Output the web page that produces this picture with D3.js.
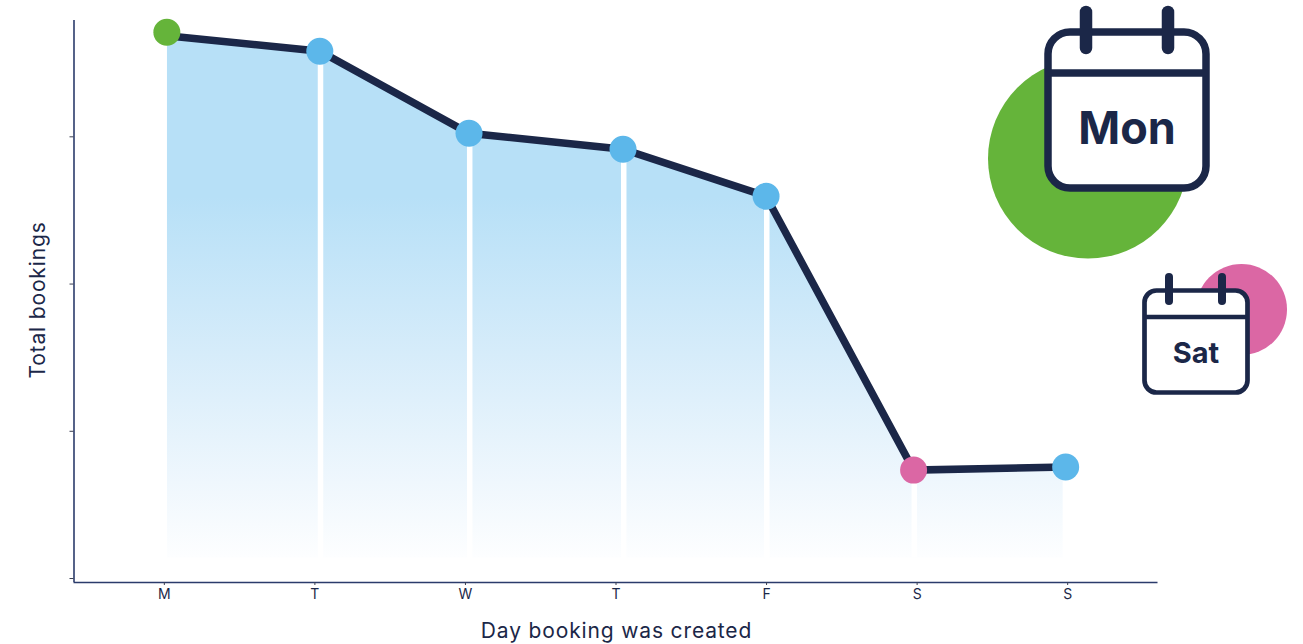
<!DOCTYPE html>
<html>
<head>
<meta charset="utf-8">
<style>
html,body{margin:0;padding:0;background:#fff;}
svg{display:block;}
text{font-family:"Inter","Noto Sans",sans-serif;fill:#1b2748;}
</style>
<script src="https://cdn.jsdelivr.net/npm/d3@7/dist/d3.min.js"></script>
</head>
<body>
<svg id="chart" width="1303" height="644"></svg>
<script>
// Bookings by the weekday they were created on
const days = ["M", "T", "W", "T", "F", "S", "S"];
const dayPlacement = [0.02, 1.036, 2.027, 3.05, 4.0, 4.98, 5.99];
const bookings = [3707, 3578, 3021, 2912, 2593, 733, 754];
const lineBookings = [3683, 3578, 3021, 2912, 2593, 733, 754];
const bookingTicks = [0, 1000, 2000, 3000];
const pointColors = ["#65b43a", "#5cb7ea", "#5cb7ea", "#5cb7ea", "#5cb7ea", "#db67a4", "#5cb7ea"];
const fillBaseline = 140;

const navy = "#1b2748";
const labelColor = "#1f315f";
const svg = d3.select("#chart");

const xBand = d3.scalePoint().domain(d3.range(days.length)).range([73.5, 1157.5]).padding(0.6);
const xPos = d3.scaleLinear()
  .domain([0, days.length - 1])
  .range([xBand(0), xBand(days.length - 1)]);
const y = d3.scaleLinear().domain([-27, 3790]).range([582, 20]);

const records = bookings.map((v, i) => ({ v, lineV: lineBookings[i], x: xPos(dayPlacement[i]), color: pointColors[i] }));

// Shaded area under the line, fading out towards the baseline
const defs = svg.append("defs");
const grad = defs.append("linearGradient")
  .attr("id", "fade").attr("gradientUnits", "userSpaceOnUse")
  .attr("x1", 0).attr("x2", 0).attr("y1", 20).attr("y2", y(fillBaseline));
[[0, "#b7e0f7"], [0.33, "#b7e0f7"], [0.62, "#d6ecfa"], [0.86, "#eff7fd"], [1, "#fdfeff"]]
  .forEach(([o, c]) => grad.append("stop").attr("offset", o).attr("stop-color", c));

defs.append("clipPath").attr("id", "areaClip").append("rect")
  .attr("x", records[0].x).attr("y", 0)
  .attr("width", records[6].x - records[0].x - 3).attr("height", 644);

svg.append("path")
  .datum(records)
  .attr("clip-path", "url(#areaClip)")
  .attr("fill", "url(#fade)")
  .attr("d", d3.area().x(d => d.x).y0(y(fillBaseline)).y1(d => y(d.lineV)));

// White drop lines under each interior point
svg.append("g").selectAll("line")
  .data(records.slice(1, 6))
  .join("line")
  .attr("x1", d => d.x + 0.7).attr("x2", d => d.x + 0.7)
  .attr("y1", d => y(d.v)).attr("y2", y(fillBaseline))
  .attr("stroke", "#fff").attr("stroke-width", 5.5);

// Axes
const xAxis = svg.append("g")
  .attr("transform", `translate(0,${y.range()[0]})`)
  .call(d3.axisBottom(xBand).tickSize(3).tickPadding(4).tickFormat(i => days[i]));
const yAxis = svg.append("g")
  .attr("transform", `translate(${xBand.range()[0]},0)`)
  .call(d3.axisLeft(y).tickValues(bookingTicks).tickSize(4).tickFormat(""));
xAxis.select(".domain").attr("d", `M${xBand.range()[0]},0.5H${xBand.range()[1]}`);
yAxis.select(".domain").attr("d", `M0.5,${y.range()[1]}V${y.range()[0]}`);
[xAxis, yAxis].forEach(a => {
  a.select(".domain").attr("stroke", "#2b3b6b").attr("stroke-width", 1.6);
  a.selectAll(".tick line").attr("stroke", "#3a3f52").attr("stroke-width", 1);
  a.selectAll("text").attr("font-size", 14).attr("font-family", '"Inter","Noto Sans",sans-serif').attr("fill", labelColor);
});

// Main line and point markers
svg.append("path")
  .datum(records)
  .attr("fill", "none").attr("stroke", navy).attr("stroke-width", 7.5)
  .attr("d", d3.line().x(d => d.x).y(d => y(d.lineV)));
svg.append("g").selectAll("circle")
  .data(records)
  .join("circle")
  .attr("cx", d => d.x).attr("cy", d => y(d.v)).attr("r", 13.5)
  .attr("fill", d => d.color);

// Axis titles
svg.append("text").attr("x", 616.5).attr("y", 638).attr("text-anchor", "middle")
  .attr("font-size", 21).attr("letter-spacing", 0.85).attr("fill", labelColor).text("Day booking was created");
svg.append("text").attr("transform", "translate(45,300) rotate(-90)").attr("text-anchor", "middle")
  .attr("font-size", 21).attr("letter-spacing", 0.85).attr("fill", labelColor).text("Total bookings");

// Calendar badges calling out the busiest and quietest days
const badges = [
  { label: "Mon", color: pointColors[0], cx: 1088, cy: 158.5, r: 100, left: 1048, top: 32, w: 158, h: 156,
    sw: 7.5, rx: 22, header: 73, pegs: [1086, 1168], pegTop: 12, pegBottom: 48, pegW: 12.5, fs: 45, base: 144, tx: 1127 },
  { label: "Sat", color: pointColors[5], cx: 1241.5, cy: 309.5, r: 45.5, left: 1144.5, top: 290.5, w: 103, h: 102,
    sw: 4.7, rx: 12, header: 317, pegs: [1169, 1222], pegTop: 277, pegBottom: 301, pegW: 8, fs: 29, base: 363, tx: 1196 }
];
const badge = svg.append("g").selectAll("g").data(badges).join("g");
badge.append("circle").attr("cx", d => d.cx).attr("cy", d => d.cy).attr("r", d => d.r).attr("fill", d => d.color);
badge.append("rect").attr("x", d => d.left).attr("y", d => d.top).attr("width", d => d.w).attr("height", d => d.h)
  .attr("rx", d => d.rx).attr("fill", "#fff").attr("stroke", navy).attr("stroke-width", d => d.sw);
badge.append("line").attr("x1", d => d.left).attr("x2", d => d.left + d.w)
  .attr("y1", d => d.header).attr("y2", d => d.header)
  .attr("stroke", navy).attr("stroke-width", d => d.sw);
badge.each(function (d) {
  d3.select(this).selectAll("line.peg").data(d.pegs).join("line").attr("class", "peg")
    .attr("x1", p => p).attr("x2", p => p).attr("y1", d.pegTop).attr("y2", d.pegBottom)
    .attr("stroke", navy).attr("stroke-width", d.pegW).attr("stroke-linecap", "round");
});
badge.append("text").attr("x", d => d.tx).attr("y", d => d.base).attr("text-anchor", "middle")
  .attr("font-size", d => d.fs).attr("font-weight", 700).attr("fill", navy).text(d => d.label);
</script>
</body>
</html>
